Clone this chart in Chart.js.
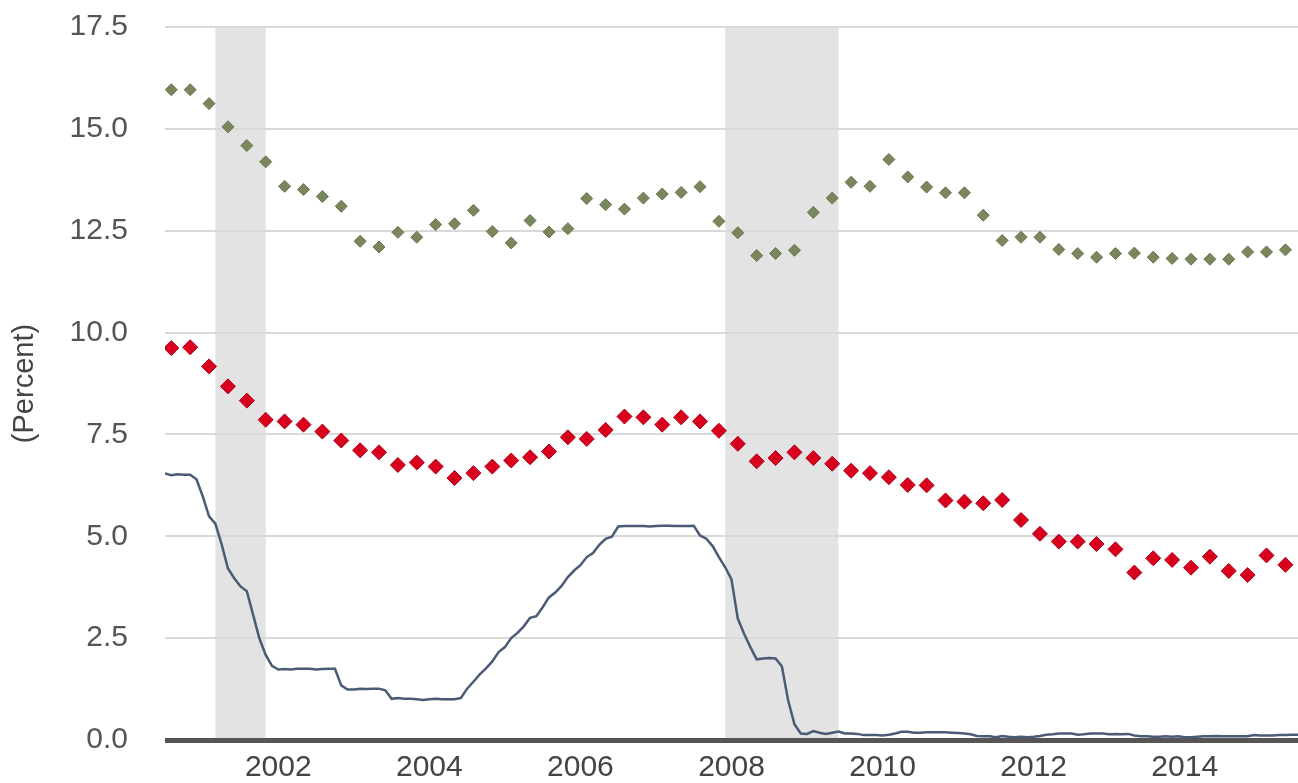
<!DOCTYPE html>
<html>
<head>
<meta charset="utf-8">
<script src="https://cdn.jsdelivr.net/npm/chart.js@4.4.1/dist/chart.umd.min.js"></script>
<style>
html,body{margin:0;padding:0;background:#ffffff;}
#wrap{width:1298px;height:783px;position:relative;}
</style>
</head>
<body>
<div id="wrap"><canvas id="c" width="1298" height="783" style="width:1298px;height:783px"></canvas></div>
<script>
// ---- Data ----
const quarterDates = [
  "2000-08","2000-11",
  "2001-02","2001-05","2001-08","2001-11",
  "2002-02","2002-05","2002-08","2002-11",
  "2003-02","2003-05","2003-08","2003-11",
  "2004-02","2004-05","2004-08","2004-11",
  "2005-02","2005-05","2005-08","2005-11",
  "2006-02","2006-05","2006-08","2006-11",
  "2007-02","2007-05","2007-08","2007-11",
  "2008-02","2008-05","2008-08","2008-11",
  "2009-02","2009-05","2009-08","2009-11",
  "2010-02","2010-05","2010-08","2010-11",
  "2011-02","2011-05","2011-08","2011-11",
  "2012-02","2012-05","2012-08","2012-11",
  "2013-02","2013-05","2013-08","2013-11",
  "2014-02","2014-05","2014-08","2014-11",
  "2015-02","2015-05"
];
const creditCardRate = [
  15.96,15.96,15.62,15.05,14.59,14.19,13.59,13.51,13.34,13.10,
  12.24,12.10,12.46,12.34,12.65,12.67,13.00,12.48,12.20,12.75,
  12.47,12.55,13.29,13.14,13.03,13.30,13.40,13.44,13.58,12.73,
  12.45,11.89,11.94,12.02,12.95,13.30,13.69,13.59,14.25,13.82,
  13.57,13.43,13.43,12.88,12.26,12.34,12.34,12.04,11.94,11.85,
  11.94,11.95,11.85,11.82,11.80,11.80,11.80,11.98,11.98,12.03
];
const carLoanRate = [
  9.62,9.64,9.17,8.68,8.33,7.86,7.82,7.74,7.57,7.35,
  7.11,7.06,6.75,6.81,6.71,6.43,6.55,6.71,6.86,6.94,
  7.08,7.43,7.39,7.61,7.94,7.92,7.74,7.92,7.82,7.59,
  7.27,6.84,6.92,7.06,6.92,6.78,6.61,6.55,6.45,6.26,
  6.25,5.88,5.85,5.81,5.89,5.40,5.06,4.87,4.87,4.81,
  4.68,4.11,4.46,4.42,4.23,4.50,4.15,4.05,4.53,4.30
];
const fedFundsStart = "2000-07";
const fedFunds = [
  6.54,6.50,6.52,6.51,6.51,6.40,
  5.98,5.49,5.31,4.80,4.21,3.97,3.77,3.65,3.07,2.49,2.09,1.82,
  1.73,1.74,1.73,1.75,1.75,1.75,1.73,1.74,1.75,1.75,1.34,1.24,
  1.24,1.26,1.25,1.26,1.26,1.22,1.01,1.03,1.01,1.01,1.00,0.98,
  1.00,1.01,1.00,1.00,1.00,1.03,1.26,1.43,1.61,1.76,1.93,2.16,
  2.28,2.50,2.63,2.79,3.00,3.04,3.26,3.50,3.62,3.78,4.00,4.16,
  4.29,4.49,4.59,4.79,4.94,4.99,5.24,5.25,5.25,5.25,5.25,5.24,
  5.25,5.26,5.26,5.25,5.25,5.25,5.26,5.02,4.94,4.76,4.49,4.24,
  3.94,2.98,2.61,2.28,1.98,2.00,2.01,2.00,1.81,0.97,0.39,0.16,
  0.15,0.22,0.18,0.15,0.18,0.21,0.16,0.16,0.15,0.12,0.12,0.12,
  0.11,0.13,0.16,0.20,0.20,0.18,0.18,0.19,0.19,0.19,0.19,0.18,
  0.17,0.16,0.14,0.10,0.09,0.09,0.07,0.10,0.08,0.07,0.08,0.07,
  0.08,0.10,0.13,0.14,0.16,0.16,0.16,0.13,0.14,0.16,0.16,0.16,
  0.14,0.15,0.14,0.15,0.11,0.09,0.09,0.08,0.08,0.09,0.08,0.09,
  0.07,0.07,0.08,0.09,0.09,0.10,0.09,0.09,0.09,0.09,0.09,0.12,
  0.11,0.11,0.11,0.12,0.12,0.13,0.13
];
const recessionStarts = ["2001-03","2007-12"];
const recessionEnds   = ["2001-11","2009-06"];
const xRangeStart = "2000-07";
const xRangeEnd   = "2015-07";
const xTickYears  = [2002,2004,2006,2008,2010,2012,2014];
const xTickLabels = ["2002","2004","2006","2008","2010","2012","2014"];
const yTickValues = [0,2.5,5,7.5,10,12.5,15,17.5];
const yTickLabels = ["0.0","2.5","5.0","7.5","10.0","12.5","15.0","17.5"];
const yAxisTitle  = "(Percent)";

// ---- helpers ----
function toYear(s){ const p=s.split("-"); return +p[0] + (+p[1]-1)/12; }
const fedStartYear = toYear(fedFundsStart);
const fedPts = fedFunds.map((v,i)=>({x: fedStartYear + i/12, y: v}));
const ccPts  = creditCardRate.map((v,i)=>({x: toYear(quarterDates[i]), y: v}));
const carPts = carLoanRate.map((v,i)=>({x: toYear(quarterDates[i]), y: v}));

const recessionPlugin = {
  id: 'recessions',
  beforeDraw(chart){
    const {ctx, chartArea, scales:{x}} = chart;
    ctx.save();
    ctx.fillStyle = '#e3e3e3';
    for (let i=0;i<recessionStarts.length;i++){
      const x0 = x.getPixelForValue(toYear(recessionStarts[i]));
      const x1 = x.getPixelForValue(toYear(recessionEnds[i]));
      ctx.fillRect(x0, chartArea.top, x1-x0, chartArea.bottom-chartArea.top);
    }
    ctx.restore();
  }
};

const FONT = "'Liberation Sans', Arial, sans-serif";

new Chart(document.getElementById('c'), {
  type: 'scatter',
  data: {
    datasets: [
      { label: 'Credit card', data: ccPts, showLine:false,
        pointStyle:'rectRot', pointRadius:6, pointBackgroundColor:'#7a875d',
        pointBorderColor:'#68744f', pointBorderWidth:1, order:1 },
      { label: 'Car loan', data: carPts, showLine:false,
        pointStyle:'rectRot', pointRadius:7.5, pointBackgroundColor:'#d8001c',
        pointBorderColor:'#b00018', pointBorderWidth:1, order:2 },
      { label: 'Fed funds', data: fedPts, showLine:true, type:'line',
        borderColor:'#4a5b78', borderWidth:2.5, pointRadius:0, tension:0, fill:false, order:3 }
    ]
  },
  options: {
    responsive:false,
    animation:false,
    devicePixelRatio:1,
    layout:{ autoPadding:false, padding:{ top:27, right:0, bottom:0, left:0 } },
    plugins:{ legend:{display:false}, tooltip:{enabled:false} },
    scales:{
      x:{
        type:'linear',
        min: toYear(xRangeStart), max: toYear(xRangeEnd),
        afterBuildTicks(s){ s.ticks = xTickYears.map(v=>({value:v})); },
        afterFit(s){ s.height = 43; s.paddingLeft = 0; s.paddingRight = 0; },
        grid:{ display:false, drawTicks:false },
        border:{ display:false },
        ticks:{
          callback:(v,i)=>xTickLabels[i],
          font:{ family:FONT, size:30 }, color:'#444', padding:10, maxRotation:0, autoSkip:false
        }
      },
      y:{
        min:0, max:17.5,
        afterBuildTicks(s){ s.ticks = yTickValues.map(v=>({value:v})); },
        afterFit(s){ s.width = 165; s.paddingTop = 0; s.paddingBottom = 0; },
        grid:{
          drawTicks:false,
          color:(c)=> c.tick && c.tick.value===0 ? '#555555' : '#d9d9d9',
          lineWidth:(c)=> c.tick && c.tick.value===0 ? 5 : 2
        },
        border:{ display:false },
        ticks:{
          callback:(v,i)=>yTickLabels[i],
          font:{ family:FONT, size:30 }, color:'#555', padding:37
        },
        title:{ display:true, text:yAxisTitle, font:{family:FONT, size:29}, color:'#444', padding:{top:8,bottom:0} }
      }
    }
  },
  plugins:[recessionPlugin]
});
</script>
</body>
</html>
